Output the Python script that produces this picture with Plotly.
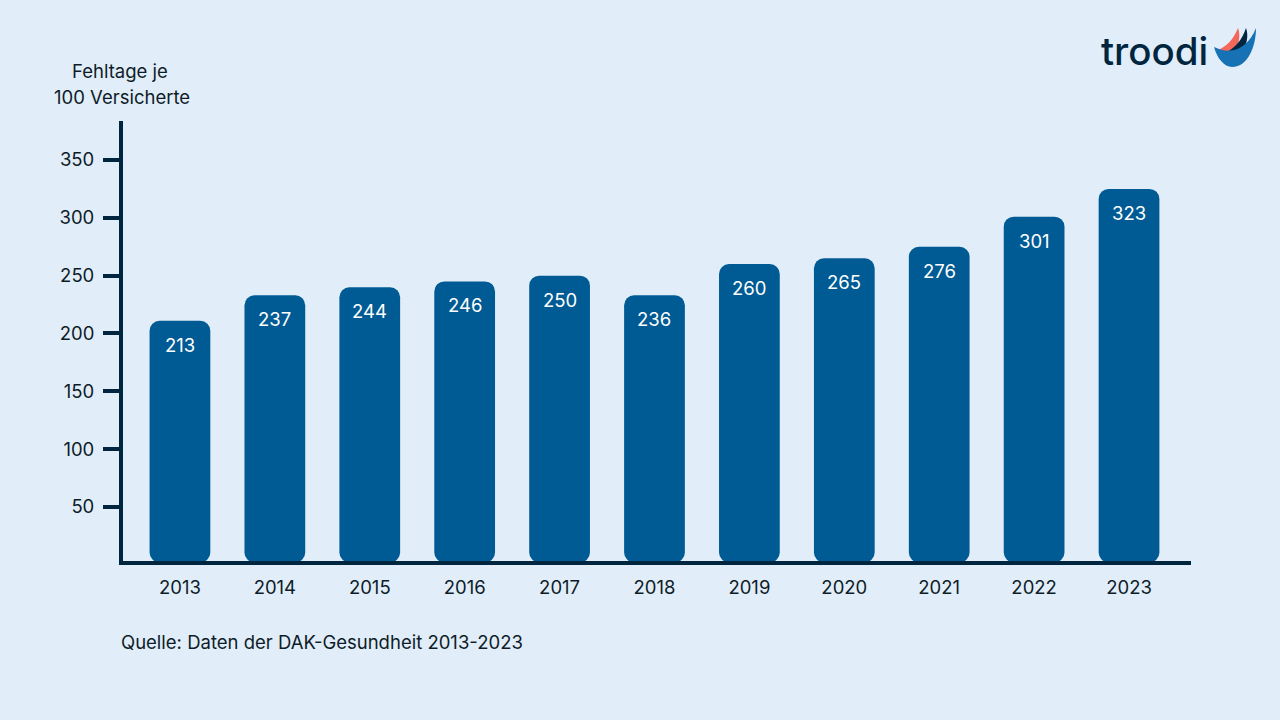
import plotly.graph_objects as go

years = ["2013", "2014", "2015", "2016", "2017", "2018", "2019", "2020", "2021", "2022", "2023"]
# bar heights as drawn against the axis, labels as printed in the bars
bar_heights = [211, 233, 240, 245, 250, 233, 260, 265, 275, 301, 325]
bar_labels = ["213", "237", "244", "246", "250", "236", "260", "265", "276", "301", "323"]
y_ticks = [50, 100, 150, 200, 250, 300, 350]

BG = "#e1edf9"
BAR = "#005b94"
DARK = "#00263f"
TEXT = "#0e1c28"
FONT = "Inter"

W, H = 1280, 720
L, R, T, B = 123, 1191, 121, 561
FLOOR = 3.3
BAR_BASE = 2


# pixel position of the page to paper coordinates, for texts and the logo
def px(x):
    return (x - L) / (R - L)


def py(y):
    return (B - y) / (B - T)


def logo_shape(coords, color):
    p = [round(px(v), 5) if i % 2 == 0 else round(py(v), 5) for i, v in enumerate(coords)]
    d = "M {} {} C {} {} {} {} {} {} C {} {} {} {} {} {} C {} {} {} {} {} {} Z".format(*p)
    return dict(type="path", xref="paper", yref="paper", path=d,
                fillcolor=color, line=dict(width=0), layer="above")


fig = go.Figure()

# with a base set the corner radius rounds the lower corners too
fig.add_trace(go.Bar(
    x=years,
    y=[h - BAR_BASE for h in bar_heights],
    base=[BAR_BASE for h in bar_heights],
    marker=dict(color=BAR, cornerradius=10, line=dict(width=0)),
    width=0.64,
))

shapes = [
    logo_shape([1218, 50, 1227, 46, 1233, 40, 1238, 28,
                1241, 36, 1239, 46, 1232, 56, 1228, 56, 1222, 54, 1218, 50], "#f4675a"),
    logo_shape([1227, 52, 1236, 47, 1242, 40, 1246, 28,
                1249, 36, 1247, 46, 1239, 58, 1235, 58, 1230, 56, 1227, 52], DARK),
    logo_shape([1214, 47, 1232, 56, 1248, 48, 1256, 28,
                1256, 46, 1248, 67, 1232, 67, 1224, 67, 1217, 58, 1214, 47], "#1672b4"),
]

annotations = [
    dict(text="Fehltage je", x=px(120), y=py(71)),
    dict(text="100 Versicherte", x=px(122), y=py(97)),
    dict(text="Quelle: Daten der DAK-Gesundheit 2013-2023", x=px(121), y=py(642), xanchor="left", xshift=-2),
]
for a in annotations:
    a.update(xref="paper", yref="paper", showarrow=False, yanchor="middle",
             font=dict(family=FONT, size=18.5, color=TEXT))
    a.setdefault("xanchor", "center")
annotations.append(dict(text="troodi", x=px(1099), y=py(51), xref="paper", yref="paper",
                        showarrow=False, xanchor="left", yanchor="middle",
                        font=dict(family=FONT, size=38.5, color=DARK, weight=500)))

# value labels sit a fixed distance under the top of each bar
# numeric looking categories have to be addressed by index here
for i, (h, label) in enumerate(zip(bar_heights, bar_labels)):
    annotations.append(dict(x=i, y=h, xref="x", yref="y", text=label, showarrow=False,
                            yanchor="middle", yshift=-24,
                            font=dict(family=FONT, size=18.5, color="#ffffff")))

fig.update_layout(
    width=W,
    height=H,
    showlegend=False,
    paper_bgcolor=BG,
    plot_bgcolor=BG,
    margin=dict(l=L, r=W - R, t=T, b=H - B),
    font=dict(family=FONT, size=18.5, color=TEXT),
    shapes=shapes,
    annotations=annotations,
)
fig.update_xaxes(
    type="category",
    range=[-0.6, 10.653],
    showgrid=False,
    ticks="",
    showline=True,
    linecolor=DARK,
    linewidth=4,
    ticklabelstandoff=7,
)
fig.update_yaxes(
    range=[FLOOR, 383.7],
    tickvals=y_ticks,
    showgrid=False,
    zeroline=False,
    showline=True,
    linecolor=DARK,
    linewidth=4,
    ticks="outside",
    ticklen=16,
    tickwidth=4,
    tickcolor=DARK,
    ticklabelstandoff=5,
)

fig.write_html("out.html", config=dict(displayModeBar=False),
               post_script="document.body.style.margin='0';document.body.style.overflow='hidden';")
